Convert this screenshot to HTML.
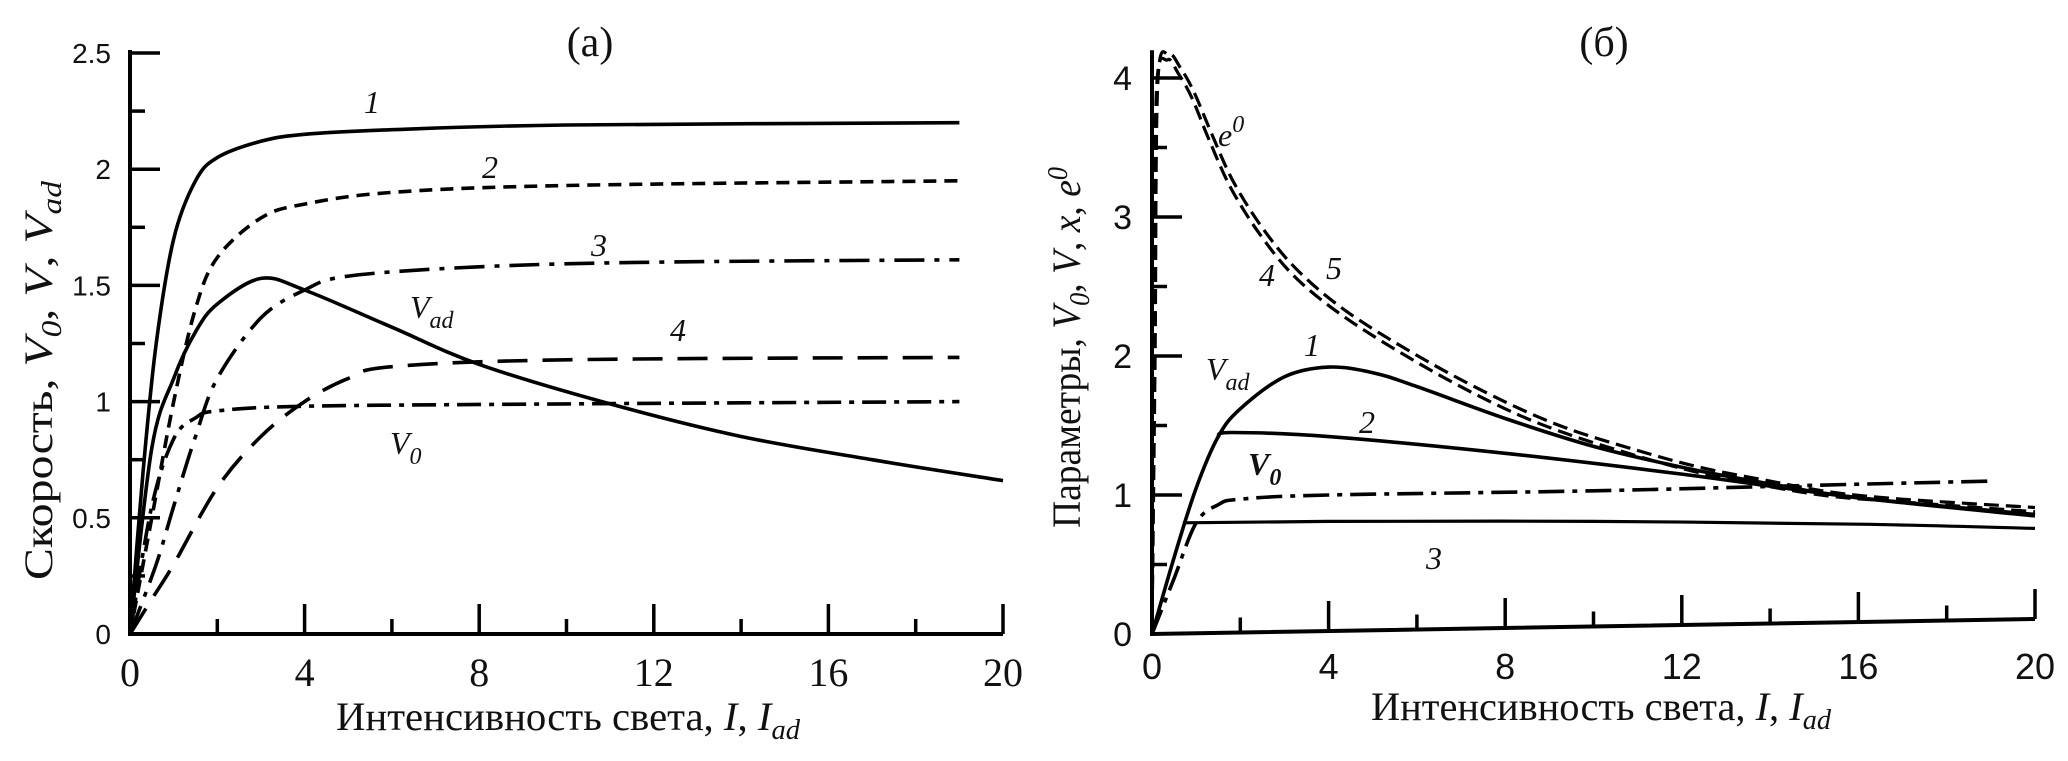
<!DOCTYPE html>
<html><head><meta charset="utf-8">
<style>
html,body{margin:0;padding:0;background:#fff;}
svg{display:block;}
text{fill:#111;}
.tm{font-family:"Liberation Serif","Noto Serif CJK SC",serif;}
.sn{font-family:"Liberation Sans","Noto Sans CJK SC",sans-serif;}
</style></head><body>
<svg id="fig" width="2068" height="761" viewBox="0 0 2068 761" xmlns="http://www.w3.org/2000/svg">
<g id="pa"></g>
<g id="pb"></g>
</svg>
<script>
// ---------- Panel (a) data ----------
const aXTicks = [0,4,8,12,16,20];
const aYTicks = [0,0.5,1,1.5,2,2.5];
const aYTickLabels = ["0","0.5","1","1.5","2","2.5"];
const a1 = [[0,0],[0.3,0.7],[0.6,1.25],[1,1.7],[1.5,1.95],[2,2.05],[3,2.12],[4,2.15],[6,2.17],[10,2.19],[19,2.2]];
const a2 = [[0,0],[0.5,0.5],[1,1.0],[1.5,1.4],[2,1.62],[3,1.79],[4,1.85],[6,1.9],[10,1.93],[19,1.95]];
const a3 = [[0,0],[0.6,0.3],[1,0.55],[1.5,0.85],[2,1.1],[3,1.36],[4,1.48],[5,1.54],[8,1.58],[12,1.6],[19,1.61]];
const a4 = [[0,0],[0.5,0.15],[1,0.3],[2,0.63],[3,0.85],[4,1.0],[5,1.1],[6,1.15],[10,1.18],[19,1.19]];
const aVad = [[0,0],[0.5,0.8],[1,1.1],[1.5,1.3],[2,1.42],[3,1.53],[4,1.48],[6,1.32],[8,1.16],[11,0.99],[14,0.85],[17,0.75],[20,0.66]];
const aV0 = [[0,0],[0.5,0.55],[1,0.84],[1.5,0.93],[2,0.96],[4,0.98],[10,0.99],[19,1.0]];
// ---------- Panel (б) data ----------
const bXTicks = [0,4,8,12,16,20];
const bYTicks = [0,1,2,3,4];
const bYTickLabels = ["0","1","2","3","4"];
const b4 = [[0,0],[0.05,2],[0.1,3.9],[0.35,4.13],[0.6,4.03],[0.9,3.86],[1.3,3.55],[1.8,3.2],[2.5,2.85],[3.3,2.55],[4.5,2.25],[6.3,1.9],[8,1.62],[9.4,1.44],[11,1.28],[12.4,1.16],[14,1.06],[15.4,0.99],[17,0.95],[20,0.88]];
const b5 = [[0,0],[0.07,2],[0.13,3.95],[0.38,4.17],[0.65,4.07],[0.95,3.9],[1.35,3.6],[1.85,3.25],[2.55,2.9],[3.35,2.6],[4.5,2.3],[6.3,1.95],[8,1.67],[9.4,1.48],[11,1.32],[12.4,1.2],[14,1.1],[15.4,1.02],[17,0.97],[20,0.91]];
const b1 = [[0,0],[0.5,0.55],[1,1.05],[1.5,1.42],[2,1.62],[3,1.85],[4,1.92],[5,1.88],[6,1.78],[8,1.55],[10,1.35],[12,1.2],[14,1.08],[16,0.98],[20,0.86]];
const b2 = [[1.5,1.42],[1.8,1.45],[4,1.42],[8,1.3],[12,1.15],[16,0.98],[20,0.85]];
const b3 = [[0.7,0.8],[4,0.81],[10,0.81],[16,0.79],[20,0.76]];
const bV0 = [[0,0],[0.5,0.4],[1,0.8],[1.5,0.93],[2,0.97],[4,1.0],[10,1.03],[15,1.07],[19,1.1]];

const NS="http://www.w3.org/2000/svg";
function mk(parent,tag,attrs){const e=document.createElementNS(NS,tag);for(const k in attrs)e.setAttribute(k,attrs[k]);parent.appendChild(e);return e;}
function spline(pts){let d="M"+pts[0][0].toFixed(1)+","+pts[0][1].toFixed(1);
 for(let i=0;i<pts.length-1;i++){const p0=pts[Math.max(i-1,0)],p1=pts[i],p2=pts[i+1],p3=pts[Math.min(i+2,pts.length-1)];
  const c1=[p1[0]+(p2[0]-p0[0])/6,p1[1]+(p2[1]-p0[1])/6],c2=[p2[0]-(p3[0]-p1[0])/6,p2[1]-(p3[1]-p1[1])/6];
  d+=" C"+c1[0].toFixed(1)+","+c1[1].toFixed(1)+" "+c2[0].toFixed(1)+","+c2[1].toFixed(1)+" "+p2[0].toFixed(1)+","+p2[1].toFixed(1);}
 return d;}

// ===== Panel A =====
const A=document.getElementById('pa');
const ax=v=>130+v*(1003-130)/20, ay=v=>634-v*(634-53)/2.5;
let e;
e=mk(A,'path',{d:`M${ax(0)},${ay(2.5)-3} V${ay(0)} H${ax(20)}`,fill:'none',stroke:'#000','stroke-width':4});


for(let v=0;v<=20.001;v+=2){const major=Math.abs(v%4)<0.01;
 e=mk(A,'line',{x1:ax(v),x2:ax(v),y1:ay(0),y2:ay(0)-(major?30:15),stroke:'#000','stroke-width':3.5});
 
 }
for(let v=0;v<=2.5001;v+=0.25){const major=Math.abs((v*2)%1)<0.01;
 e=mk(A,'line',{x1:ax(0),x2:ax(0)+(major?30:15),y1:ay(v),y2:ay(v),stroke:'#000','stroke-width':3.5});
 
 }
aYTicks.forEach((v,i)=>{e=mk(A,'text',{x:111,y:ay(v)+10,'text-anchor':'end','font-size':28,class:'sn'});e.textContent=aYTickLabels[i];
 
 });
aXTicks.forEach(v=>{e=mk(A,'text',{x:ax(v),y:686,'text-anchor':'middle','font-size':40,class:'tm'});e.textContent=String(v);
 
 });
function seriesA(data,dash,name){const p=mk(A,'path',{d:spline(data.map(q=>[ax(q[0]),ay(q[1])])),fill:'none',stroke:'#000','stroke-width':3.6,'stroke-dasharray':dash});
 
 }
seriesA(a1,'none','curve-1-a');
seriesA(a2,'13 8','curve-2-a');
seriesA(a3,'30 10 5 10','curve-3-a');
seriesA(a4,'30 15','curve-4-a');
seriesA(aVad,'none','curve-vad-a');
seriesA(aV0,'24 8 5 8','curve-v0-a');

// ===== Panel B =====
const B=document.getElementById('pb');
const bx=v=>1152+v*(2035-1152)/20, by=v=>634-v*(634-78)/4, base=v=>634-15*v/20;
e=mk(B,'path',{d:`M${bx(0)},${by(4.2)} V${by(0)} L${bx(20)},${base(20)}`,fill:'none',stroke:'#000','stroke-width':4});


for(let v=2;v<=20.001;v+=2){const major=Math.abs(v%4)<0.01;
 e=mk(B,'line',{x1:bx(v),x2:bx(v),y1:base(v),y2:base(v)-(major?30:15),stroke:'#000','stroke-width':3.5});
 
 }
for(let v=0.5;v<=4.001;v+=0.5){const major=Math.abs(v%1)<0.01;
 e=mk(B,'line',{x1:bx(0),x2:bx(0)+(major?30:15),y1:by(v),y2:by(v),stroke:'#000','stroke-width':3.5});
 
 }
bYTicks.forEach((v,i)=>{e=mk(B,'text',{x:1132,y:by(v)+12,'text-anchor':'end','font-size':34,class:'sn'});e.textContent=bYTickLabels[i];
 
 });
bXTicks.forEach(v=>{e=mk(B,'text',{x:bx(v),y:679,'text-anchor':'middle','font-size':36,class:'sn'});e.textContent=String(v);
 
 });
function seriesB(data,dash,name,w){const p=mk(B,'path',{d:spline(data.map(q=>[bx(q[0]),by(q[1])])),fill:'none',stroke:'#000','stroke-width':w||3.6,'stroke-dasharray':dash});
 
 }
seriesB(b4,'15 7','curve-4-b',3.2);
seriesB(b5,'15 7','curve-5-b',3.2);
seriesB(b1,'none','curve-1-b');
seriesB(b2,'none','curve-2-b');
seriesB(b3,'none','curve-3-b',3.2);
seriesB(bV0,'26 8 5 8','curve-v0-b');
</script>
<svg width="2068" height="761" style="position:absolute;left:0;top:0" xmlns="http://www.w3.org/2000/svg">
<g class="tm" font-size="40">
<text x="590" y="56" font-size="42" text-anchor="middle">(a)</text>
<text x="1604" y="56" font-size="42" text-anchor="middle">(б)</text>
<text x="336" y="730" textLength="464" lengthAdjust="spacingAndGlyphs">Интенсивность света, <tspan font-style="italic">I</tspan>, <tspan font-style="italic">I</tspan><tspan font-style="italic" font-size="28" dy="9">ad</tspan></text>
<text x="1371" y="720" textLength="460" lengthAdjust="spacingAndGlyphs">Интенсивность света, <tspan font-style="italic">I</tspan>, <tspan font-style="italic">I</tspan><tspan font-style="italic" font-size="28" dy="9">ad</tspan></text>
<text transform="translate(52,580) rotate(-90)" textLength="399" lengthAdjust="spacingAndGlyphs">Скорость, <tspan font-style="italic">V</tspan><tspan font-style="italic" font-size="28" dy="9">0</tspan><tspan dy="-9">, </tspan><tspan font-style="italic">V</tspan>, <tspan font-style="italic">V</tspan><tspan font-style="italic" font-size="28" dy="9">ad</tspan></text>
<text transform="translate(1080,528) rotate(-90)" textLength="361" lengthAdjust="spacingAndGlyphs">Параметры, <tspan font-style="italic">V</tspan><tspan font-style="italic" font-size="28" dy="9">0</tspan><tspan dy="-9">, </tspan><tspan font-style="italic">V</tspan>, <tspan font-style="italic">x</tspan>, <tspan font-style="italic">e</tspan><tspan font-style="italic" font-size="28" dy="-13">0</tspan></text>
</g>
<g class="tm" font-size="32" font-style="italic">
<text x="372" y="113" text-anchor="middle">1</text>
<text x="490" y="178" text-anchor="middle">2</text>
<text x="599" y="256" text-anchor="middle">3</text>
<text x="678" y="341" text-anchor="middle">4</text>
<text x="410" y="318">V<tspan font-size="24" dy="10">ad</tspan></text>
<text x="390" y="454">V<tspan font-size="24" dy="10">0</tspan></text>
<text x="1218" y="146">e<tspan font-size="24" dy="-14">0</tspan></text>
<text x="1267" y="286" text-anchor="middle">4</text>
<text x="1334" y="279" text-anchor="middle">5</text>
<text x="1312" y="356" text-anchor="middle">1</text>
<text x="1367" y="433" text-anchor="middle">2</text>
<text x="1434" y="569" text-anchor="middle">3</text>
<text x="1206" y="380">V<tspan font-size="24" dy="10">ad</tspan></text>
<text x="1248" y="475" font-weight="bold">V<tspan font-size="24" dy="10">0</tspan></text>
</g>
</svg>
</body></html>
